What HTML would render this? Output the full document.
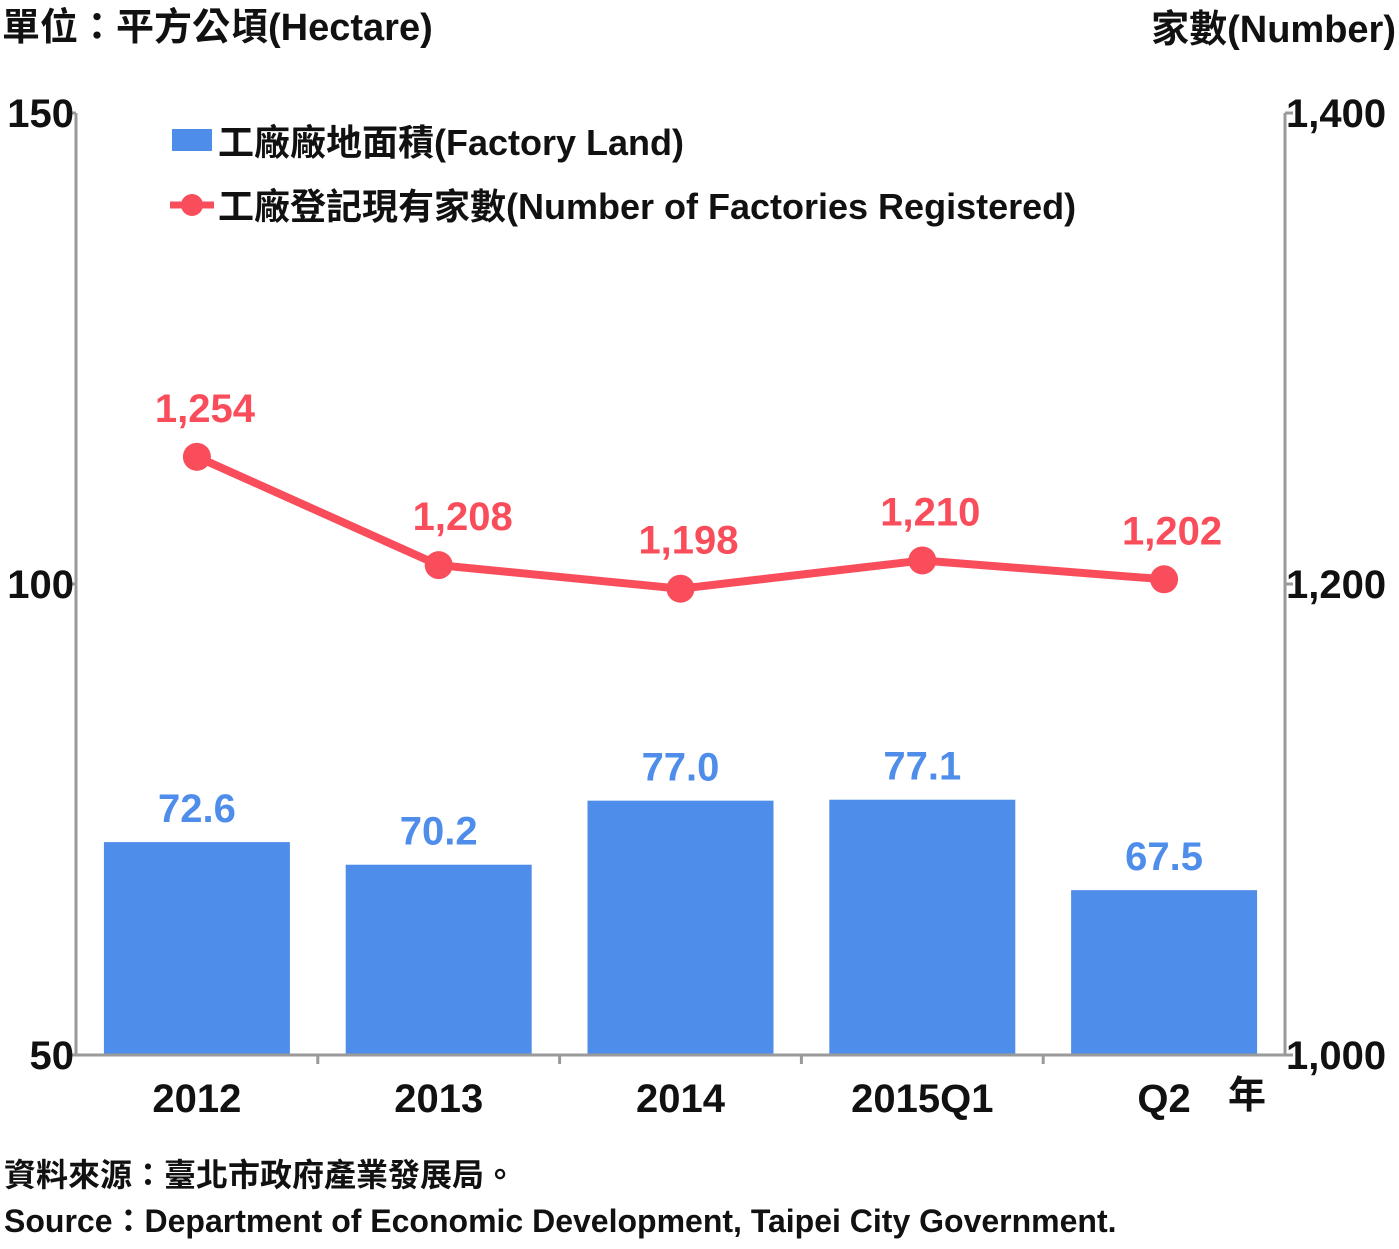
<!DOCTYPE html>
<html><head><meta charset="utf-8"><style>
body{margin:0;background:#fff;}
svg text{font-family:"Liberation Sans","Noto Sans CJK TC",sans-serif;font-weight:bold;}
</style></head><body>
<svg width="1399" height="1244" viewBox="0 0 1399 1244">
<text x="2" y="40" font-size="38" fill="#111">單位：平方公頃(Hectare)</text>
<text x="1396" y="42" font-size="38" fill="#111" text-anchor="end">家數(Number)</text>
<g id="axes"></g>
<g id="bars"></g>
<g id="line"></g>
<g>
<rect x="172" y="129" width="40" height="22" fill="#4f8dea"/>
<text x="218" y="155" font-size="36" fill="#111">工廠廠地面積(Factory Land)</text>
<line x1="170" y1="205" x2="214" y2="205" stroke="#f94d5b" stroke-width="7"/>
<circle cx="192" cy="205" r="11" fill="#f94d5b"/>
<text x="218" y="219" font-size="36" fill="#111">工廠登記現有家數(Number of Factories Registered)</text>
</g>
<text x="1228" y="1108" font-size="38" fill="#111">年</text>
<text x="4" y="1186" font-size="32" fill="#111" font-weight="normal">資料來源：臺北市政府產業發展局。</text>
<text x="4" y="1232" font-size="32" fill="#111">Source：Department of Economic Development, Taipei City Government.</text>
</svg>
<script>
const categories=["2012","2013","2014","2015Q1","Q2"];
const landValues=[72.6,70.2,77.0,77.1,67.5];
const factoryValues=[1254,1208,1198,1210,1202];
const leftTicks=[50,100,150];
const rightTicks=[1000,1200,1400];
const NS="http://www.w3.org/2000/svg";
const X0=76,X1=1285,Y0=1055,Y1=113;
const step=(X1-X0)/categories.length;
const xc=i=>X0+step*(i+0.5);
const yL=v=>Y0-(v-50)/100*(Y0-Y1);
const yR=v=>Y0-(v-1000)/400*(Y0-Y1);
function mk(tag,attrs,parent,text){const e=document.createElementNS(NS,tag);for(const k in attrs)e.setAttribute(k,attrs[k]);if(text!==undefined)e.textContent=text;parent.appendChild(e);return e;}
const axes=document.getElementById('axes'),bars=document.getElementById('bars'),line=document.getElementById('line');
const ac="#9a9a9a";
let a=mk('line',{x1:X0,y1:Y1,x2:X0,y2:Y0,stroke:ac,'stroke-width':3},axes);

a=mk('line',{x1:X1,y1:Y1,x2:X1,y2:Y0,stroke:ac,'stroke-width':3},axes);

a=mk('line',{x1:X0,y1:Y0,x2:X1,y2:Y0,stroke:ac,'stroke-width':3},axes);

leftTicks.forEach(v=>{mk('line',{x1:X0-8,y1:yL(v),x2:X0,y2:yL(v),stroke:ac,'stroke-width':3},axes);
const t=mk('text',{x:X0-2,y:yL(v)+14,'font-size':40,'text-anchor':'end',fill:'#111'},axes,String(v));
});
rightTicks.forEach(v=>{mk('line',{x1:X1,y1:yR(v),x2:X1+8,y2:yR(v),stroke:ac,'stroke-width':3},axes);
const t=mk('text',{x:X1+1,y:yR(v)+14,'font-size':40,fill:'#111'},axes,v.toLocaleString('en-US'));
});
for(let i=1;i<categories.length;i++){mk('line',{x1:X0+step*i,y1:Y0,x2:X0+step*i,y2:Y0+9,stroke:ac,'stroke-width':3},axes);}
categories.forEach((c,i)=>{const t=mk('text',{x:xc(i),y:1112,'font-size':40,'text-anchor':'middle',fill:'#111'},axes,c);
});
const bw=186;
landValues.forEach((v,i)=>{const r=mk('rect',{x:xc(i)-bw/2,y:yL(v),width:bw,height:Y0-1.5-yL(v),fill:'#4f8dea'},bars);

const t=mk('text',{x:xc(i),y:yL(v)-20,'font-size':40,'text-anchor':'middle',fill:'#4f8dea'},bars,v.toFixed(1));
});
const pl=mk('polyline',{points:factoryValues.map((v,i)=>xc(i)+','+yR(v)).join(' '),fill:'none',stroke:'#f94d5b','stroke-width':8,'stroke-linejoin':'round'},line);

factoryValues.forEach((v,i)=>{const c=mk('circle',{cx:xc(i),cy:yR(v),r:14,fill:'#f94d5b'},line);

const dx=[8,24,8,8,8][i];
const t=mk('text',{x:xc(i)+dx,y:yR(v)-35,'font-size':40,'text-anchor':'middle',fill:'#f94d5b'},line,v.toLocaleString('en-US'));
});
</script>
</body></html>
